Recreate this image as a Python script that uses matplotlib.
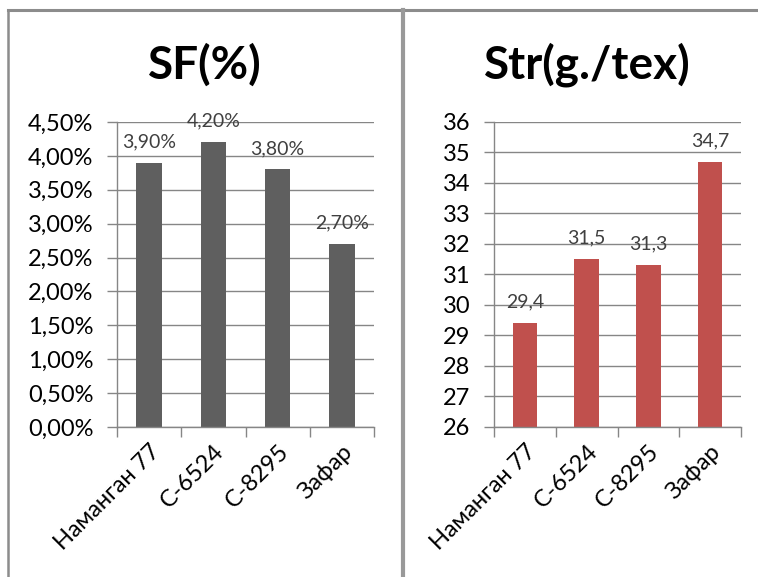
import matplotlib.pyplot as plt
from matplotlib.ticker import FuncFormatter, FixedLocator
from matplotlib.lines import Line2D

sorts = ["Наманган 77", "С-6524", "С-8295", "Зафар"]
sf_values = [3.9, 4.2, 3.8, 2.7]          # SF, %
str_values = [29.4, 31.5, 31.3, 34.7]     # Str, g/tex

plt.rcParams['font.family'] = ['Lato', 'DejaVu Sans']

fig = plt.figure(figsize=(7.58, 5.77), dpi=100)

grid_col = '#868686'


def style_axes(ax):
    ax.set_xlim(-0.5, len(sorts) - 0.5)
    for s in ['top', 'right']:
        ax.spines[s].set_visible(False)
    for s in ['left', 'bottom']:
        ax.spines[s].set_color(grid_col)
        ax.spines[s].set_linewidth(1)
    ax.yaxis.grid(True, color=grid_col, linewidth=1)
    ax.set_axisbelow(True)
    ax.set_xticks(range(len(sorts)))
    ax.set_xticklabels(sorts, rotation=45, ha='right', rotation_mode='anchor', fontsize=17)
    ax.tick_params(axis='x', length=0, pad=10)
    ax.xaxis.set_minor_locator(FixedLocator([i - 0.5 for i in range(len(sorts) + 1)]))
    ax.tick_params(axis='x', which='minor', length=7, color=grid_col, width=1)
    ax.tick_params(axis='y', length=7, color=grid_col, width=1, labelsize=17, pad=10)


# SF(%)
ax1 = fig.add_axes([0.1544, 0.26, 0.339, 0.5286])
ax1.bar(range(len(sorts)), sf_values, width=0.4, color='#5f5f5f', zorder=2)
ax1.set_ylim(0, 4.5)
ax1.set_yticks([i * 0.5 for i in range(10)])
ax1.yaxis.set_major_formatter(FuncFormatter(lambda v, p: f"{v:.2f}%".replace('.', ',')))
style_axes(ax1)
for i, v in enumerate(sf_values):
    ax1.annotate(f"{v:.2f}%".replace('.', ','), (i, v), xytext=(0, 9),
                 textcoords='offset points', ha='center', va='bottom',
                 fontsize=14, color='#404040')

# Str(g./tex)
ax2 = fig.add_axes([0.6517, 0.26, 0.3259, 0.5286])
ax2.bar(range(len(sorts)), str_values, width=0.4, color='#c0504d', zorder=2)
ax2.set_ylim(26, 36)
ax2.set_yticks(range(26, 37))
style_axes(ax2)
for i, v in enumerate(str_values):
    ax2.annotate(f"{v:.1f}".replace('.', ','), (i, v), xytext=(0, 9),
                 textcoords='offset points', ha='center', va='bottom',
                 fontsize=14, color='#404040')

fig.text(205 / 758, 1 - 65 / 577, "SF(%)", ha='center', va='center',
         fontsize=33, fontweight='bold')
fig.text(587 / 758, 1 - 65 / 577, "Str(g./tex)", ha='center', va='center',
         fontsize=33, fontweight='bold')

# panel frames
frame_col = '#8c8c8c'
fig.add_artist(Line2D([8 / 758, 1], [1 - 10 / 577] * 2, color=frame_col, linewidth=2.2))
fig.add_artist(Line2D([8 / 758] * 2, [0, 1 - 10 / 577], color=frame_col, linewidth=1.8))
fig.add_artist(Line2D([403 / 758] * 2, [0, 1 - 10 / 577], color='#999999', linewidth=3))

fig.savefig('out.png', dpi=100)
